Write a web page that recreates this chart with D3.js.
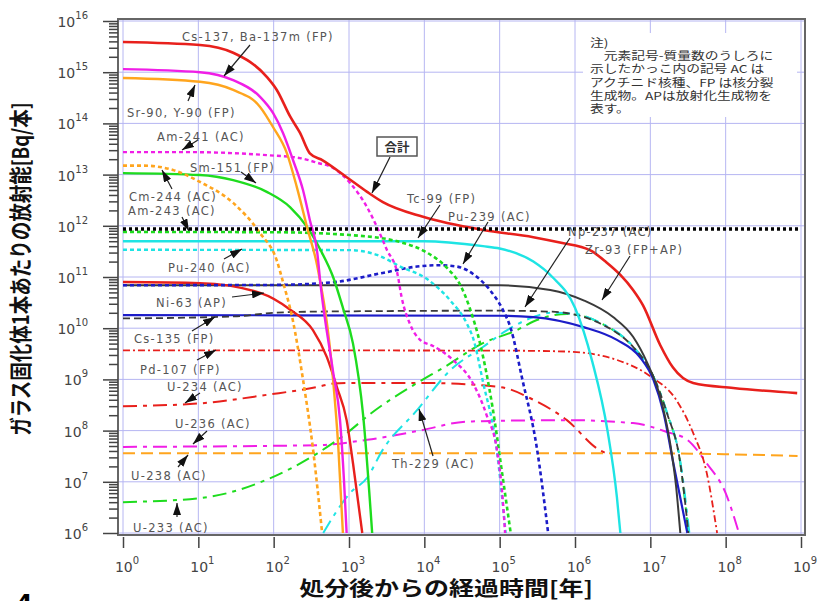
<!DOCTYPE html>
<html>
<head>
<meta charset="utf-8">
<script src="https://cdn.jsdelivr.net/npm/d3@7"></script>
<style>
  body { margin: 0; background: #fff; }
  svg { display: block; }
</style>
</head>
<body>
<svg id="chart" width="819" height="601"></svg>
<script>
// Activity per vitrified-waste canister, [years after disposal, Bq]
const total   = [[1,3.9e15],[10.5,3.4e15],[29,2.4e15],[81,8.1e14],[110,4.5e14],[166,1.35e14],[224,6.5e13],[302,2.6e13],[447,1.9e13],[933,8.9e12],[1740,4.6e12],[2820,2.9e12],[9600,1.5e12],[6e4,8.3e11],[2.8e5,6e11],[6.3e5,4.7e11],[1.6e6,3.3e11],[2.6e6,1.95e11],[4e6,1.1e11],[5.9e6,5.6e10],[8e6,2.8e10],[1.35e7,4.7e9],[2e7,1.7e9],[3.7e7,8.5e8],[1.26e8,6.8e8],[8.9e8,5.4e8]];
const sr90    = [[1,1.15e15],[10.5,1e15],[29,7e14],[66,3.3e14],[98,1.6e14],[133,6.5e13],[180,1.95e13],[245,5e12],[302,1.3e12],[380,2.9e11],[417,7.6e10],[615,1.4e9],[760,1.6e8],[860,1e7],[930,1e6]];
const y90     = [[1,7.7e14],[10.5,6.5e14],[29,4.5e14],[66,2.1e14],[98,8.5e13],[150,2.6e13],[203,5.7e12],[277,9.5e11],[380,1.6e11],[615,9.8e8],[720,5e7],[830,1e6]];
const am241   = [[1,2.75e13],[7,2.75e13],[81,2.4e13],[224,2.1e13],[380,1.7e13],[615,1.35e13],[1030,6.9e12],[1740,2.3e12],[2350,9.5e11],[3180,3.4e11],[4370,1.2e11],[5000,4e10],[6460,1.2e10],[8710,6e9],[1.3e4,4.5e9],[2.4e4,2.4e9],[4.4e4,8.5e8],[6.8e4,1.9e8],[9.2e4,4.2e7],[1.1e5,4.4e6],[1.18e5,1e6]];
const cm244   = [[1,1.5e13],[1.85,1.5e13],[4.6,1.23e13],[10.5,7.2e12],[29,2.8e12],[66,7.2e11],[110,2.1e11],[133,8e10],[180,1.4e10],[245,1e9],[330,4.8e7],[440,1e6]];
const sm151   = [[1,1.07e13],[10.5,9.8e12],[29,7.8e12],[81,4.6e12],[166,2.3e12],[277,9.5e11],[417,3.4e11],[615,1e11],[830,2.5e10],[1130,5e9],[1540,2e8],[2030,1e6]];
const am243   = [[1,7.6e11],[100,7.5e11],[1030,6.6e11],[4800,4.8e11],[1e4,3.2e11],[2e4,1.5e11],[3e4,7e10],[4e4,2.5e10],[5.5e4,5e9],[8e4,3e8],[1.1e5,1.2e7],[1.4e5,1e6]];
const pu240   = [[1,3.4e11],[1000,3.35e11],[2350,2.7e11],[4800,1.6e11],[1.1e4,9e10],[2.2e4,3.5e10],[3.7e4,1.2e10],[4.5e4,6e9],[6e4,9e8],[9e4,5e7],[1.2e5,1e6]];
const tc99    = [[1,5e11],[1e4,5e11],[6e4,4e11],[1e5,3.6e11],[2.8e5,2e11],[5e5,1e11],[1e6,2.5e10],[1.7e6,2.2e9],[2.7e6,1e8],[3.6e6,5e6],[4e6,1e6]];
const pu239   = [[1,6.9e10],[100,7e10],[615,7.9e10],[2800,1.2e11],[8000,1.6e11],[1.6e4,1.7e11],[2.7e4,1.6e11],[5e4,1e11],[7.4e4,5.6e10],[1.1e5,2.3e10],[1.4e5,1e10],[2e5,1e9],[3.1e5,4.8e7],[4.4e5,1e6]];
const zr93    = [[1,6.9e10],[1e5,6.9e10],[4.7e5,5.6e10],[1.3e6,3.5e10],[3.2e6,1.65e10],[5.9e6,6.8e9],[9.1e6,2.1e9],[1.35e7,4.6e8],[1.8e7,6.6e7],[2.2e7,8e6],[2.5e7,1e6]];
const ni63    = [[1,8e10],[10.5,7.6e10],[66,4.9e10],[166,2.3e10],[332,9.2e9],[510,2.7e9],[690,7.1e8],[930,1.6e8],[1130,2.3e7],[1500,1e6]];
const np237   = [[1,1.55e10],[30,1.7e10],[100,2e10],[300,2.1e10],[1e5,2.2e10],[5e5,2.1e10],[2.1e6,1.26e10],[5.9e6,4.3e9],[1e7,1.5e9],[1.66e7,2.2e8],[2.5e7,2.3e7],[3.2e7,1e6]];
const cs135   = [[1,1.8e10],[1e5,1.75e10],[2.8e5,1.65e10],[1.3e6,1.05e10],[3.6e6,5.9e9],[7.3e6,2.7e9],[1.1e7,9.8e8],[1.5e7,2.2e8],[2e7,2.5e7],[3.1e7,1e6]];
const pd107   = [[1,3.7e9],[1e5,3.65e9],[7.8e5,3.5e9],[3.6e6,2.4e9],[1e7,1.15e9],[2.2e7,4e8],[3.7e7,9e7],[5.6e7,1.5e7],[7.7e7,1e6]];
const u234    = [[1,3e8],[10.5,3.4e8],[81,5e8],[380,7.1e8],[615,8.3e8],[1000,8.5e8],[1e4,8.5e8],[1e5,7.1e8],[2.8e5,4e8],[7.8e5,1.6e8],[2.1e6,4.2e7],[2.6e6,3.6e7]];
const u236    = [[1,4.8e7],[380,5.2e7],[1740,6.6e7],[8700,1e8],[3.7e4,1.5e8],[7.8e5,1.6e8],[5.9e6,1.4e8],[1.66e7,9.4e7],[3.1e7,6.6e7],[5.6e7,2.3e7],[1e8,6e6],[1.5e8,1e6]];
const u238    = [[1,3.6e7],[1e7,3.6e7],[1e8,3.45e7],[9e8,3.2e7]];
const u233    = [[1,4e6],[10.5,4.8e6],[81,1.1e7],[380,3.6e7],[1030,1e8],[1740,1.9e8],[8000,8.5e8],[1.8e4,1.7e9],[6e4,5.1e9],[1.7e5,9.2e9],[2.8e5,1.35e10],[7.8e5,1.9e10],[2.1e6,1.3e10],[5.9e6,4.3e9],[1e7,1.5e9],[1.66e7,2.2e8],[2.5e7,2.3e7],[3.2e7,1e6]];
const th229   = [[455,1e6],[1030,6e6],[1740,1.2e7],[2800,4.2e7],[8000,2.5e8],[2.2e4,1.5e9],[6e4,4.3e9],[1.26e5,9.2e9],[2.8e5,1.65e10],[4.7e5,2e10],[1e6,1.9e10],[2.1e6,1.3e10],[5.9e6,4.4e9],[1e7,1.5e9],[1.66e7,2.3e8],[2.5e7,2.5e7],[3.3e7,1e6]];
const refLevel = [[1,8.7e11],[1e9,8.7e11]];

// Axis decades
const xExponents = [0,1,2,3,4,5,6,7,8,9];
const yExponents = [6,7,8,9,10,11,12,13,14,15,16];

const xTitle = "処分後からの経過時間[年]";
const yTitle = "ガラス固化体1本あたりの放射能[Bq/本]";
const noteLines = ["注)", "　元素記号-質量数のうしろに", "示したかっこ内の記号 AC は", "アクチニド核種、FP は核分裂", "生成物。APは放射化生成物を", "表す。"];

// Colours
const RED = "#e8201c", MAG = "#f01ee6", ORA = "#ffa51e", GRN = "#1edc1e",
      CYA = "#1ee4e4", BLU = "#1c1cc8", DRK = "#3a3a3a";

// Draw order: bottom first
const series = [
  { data: u238,  color: ORA, w: 2,   dash: "12,6" },
  { data: u234,  color: RED, w: 2,   dash: "14,6,4,6" },
  { data: u236,  color: MAG, w: 2,   dash: "14,6,4,6" },
  { data: u233,  color: GRN, w: 2,   dash: "14,6,4,6" },
  { data: th229, color: CYA, w: 2,   dash: "14,6,4,6" },
  { data: pd107, color: RED, w: 1.8, dash: "7,3,2,3" },
  { data: cs135, color: BLU, w: 2.2, dash: null },
  { data: np237, color: DRK, w: 1.8, dash: "7,4" },
  { data: zr93,  color: DRK, w: 2,   dash: null },
  { data: ni63,  color: RED, w: 2.4, dash: null },
  { data: pu239, color: BLU, w: 2.6, dash: "4,3" },
  { data: pu240, color: CYA, w: 2.4, dash: "4,3" },
  { data: tc99,  color: CYA, w: 2.4, dash: null },
  { data: am243, color: GRN, w: 2.6, dash: "4,3" },
  { data: sm151, color: GRN, w: 2.4, dash: null },
  { data: cm244, color: ORA, w: 2.6, dash: "4,3" },
  { data: am241, color: MAG, w: 2.4, dash: "4,3" },
  { data: y90,   color: ORA, w: 2.4, dash: null },
  { data: sr90,  color: MAG, w: 2.4, dash: null },
  { data: total, color: RED, w: 2.6, dash: null },
  { data: refLevel, color: "#000", w: 3.5, dash: "3,3" }
];

// Nuclide labels with their pointer arrows (tail -> tip)
const labels = [
  { text: "Cs-137, Ba-137m (FP)", x: 182, y: 41,  a: [250,45, 224,76] },
  { text: "Sr-90, Y-90 (FP)",     x: 127, y: 117, a: [188,101, 195,85] },
  { text: "Am-241 (AC)",          x: 157, y: 141, a: [198,140, 182,150] },
  { text: "Sm-151 (FP)",          x: 190, y: 172, a: [241,172, 256,183] },
  { text: "Cm-244 (AC)",          x: 129, y: 201, a: [172,189, 162,170] },
  { text: "Am-243 (AC)",          x: 128, y: 215, a: [182,217, 189,231] },
  { text: "Pu-240 (AC)",          x: 168, y: 272, a: [224,259, 242,249] },
  { text: "Ni-63 (AP)",           x: 156, y: 307, a: [232,297, 264,293] },
  { text: "Cs-135 (FP)",          x: 134, y: 343, a: [192,331, 215,317] },
  { text: "Pd-107 (FP)",          x: 140, y: 374, a: [197,360, 216,350] },
  { text: "U-234 (AC)",           x: 167, y: 391, a: [200,393, 185,403] },
  { text: "U-236 (AC)",           x: 175, y: 428, a: [207,431, 193,444] },
  { text: "U-238 (AC)",           x: 131, y: 480, a: [178,467, 188,455] },
  { text: "U-233 (AC)",           x: 133, y: 532, a: [177,517, 177,503] },
  { text: "Th-229 (AC)",          x: 392, y: 468, a: [433,456, 419,409] },
  { text: "Tc-99 (FP)",           x: 407, y: 203, a: [440,205, 418,238] },
  { text: "Pu-239 (AC)",          x: 448, y: 221, a: [488,222, 463,264] },
  { text: "Np-237 (AC)",          x: 568, y: 236, a: [570,238, 525,307] },
  { text: "Zr-93 (FP+AP)",        x: 585, y: 254, a: [630,256, 602,300] }
];

const svg = d3.select("#chart");
const plot = { l: 118, t: 19, r: 805, b: 535 };

const x = d3.scaleLog().domain([1, 1e9]).range([123, 801]);
const y = d3.scaleLog().domain([1e6, 1e16]).range([533, 21]);

const defs = svg.append("defs");
defs.append("clipPath").attr("id", "plotClip")
  .append("rect").attr("x", plot.l).attr("y", plot.t)
  .attr("width", plot.r - plot.l).attr("height", plot.b - plot.t);
defs.append("marker").attr("id", "arrowHead")
  .attr("viewBox", "0 0 12 8").attr("refX", 12).attr("refY", 4)
  .attr("markerWidth", 12).attr("markerHeight", 8)
  .attr("markerUnits", "userSpaceOnUse").attr("orient", "auto")
  .append("path").attr("d", "M0,0L12,4L0,8Z").attr("fill", "#111");

// Plot background and grid
svg.append("rect").attr("x", plot.l).attr("y", plot.t)
  .attr("width", plot.r - plot.l).attr("height", plot.b - plot.t).attr("fill", "#fff");

const grid = svg.append("g").attr("stroke", "#b6b6f2").attr("stroke-width", 1);
grid.selectAll("line.gx").data(xExponents).join("line")
  .attr("x1", e => x(10 ** e)).attr("x2", e => x(10 ** e))
  .attr("y1", plot.t).attr("y2", plot.b);
grid.selectAll("line.gy").data(yExponents).join("line")
  .attr("y1", e => y(10 ** e)).attr("y2", e => y(10 ** e))
  .attr("x1", plot.l).attr("x2", plot.r);

// Note panel: one text block, one tspan per line
svg.append("rect").attr("x", 583).attr("y", 33).attr("width", 214).attr("height", 84).attr("fill", "#fff");
svg.append("text").attr("transform", "translate(590,47) scale(1.25,1)")
  .attr("font-family", "'Noto Sans CJK JP', sans-serif")
  .attr("font-size", 11).attr("fill", "#333")
  .selectAll("tspan").data(noteLines).join("tspan")
  .attr("x", 0).attr("dy", (d, i) => i === 0 ? 0 : (i === 1 ? 13 : 13.3))
  .text(d => d);

// Curves
const line = d3.line().x(d => x(d[0])).y(d => y(d[1])).curve(d3.curveMonotoneX);
svg.append("g").attr("clip-path", "url(#plotClip)")
  .selectAll("path").data(series).join("path")
  .attr("d", d => line(d.data))
  .attr("fill", "none")
  .attr("stroke", d => d.color)
  .attr("stroke-width", d => d.w)
  .attr("stroke-dasharray", d => d.dash)
  .attr("stroke-linejoin", "round");

// Frame
svg.append("rect").attr("x", plot.l).attr("y", plot.t)
  .attr("width", plot.r - plot.l).attr("height", plot.b - plot.t)
  .attr("fill", "none").attr("stroke", "#666").attr("stroke-width", 2);

// Y axis: major and minor ticks
const yMinor = [];
yExponents.slice(0, -1).forEach(e => { for (let k = 2; k <= 9; k++) yMinor.push(k * 10 ** e); });
const yAxisMajor = d3.axisLeft(y).tickValues(yExponents.map(e => 10 ** e)).tickSize(15).tickFormat("");
const yAxisMinor = d3.axisLeft(y).tickValues(yMinor).tickSize(9).tickFormat("");
[yAxisMajor, yAxisMinor].forEach(ax => {
  const g = svg.append("g").attr("transform", `translate(${plot.l},0)`).call(ax);
  g.select(".domain").remove();
  g.selectAll("line").attr("stroke", "#444").attr("stroke-width", 1.5);
});
const xAxis = d3.axisBottom(x).tickValues(xExponents.map(e => 10 ** e)).tickSize(11).tickFormat("");
const gx = svg.append("g").attr("transform", `translate(0,${plot.b + 2})`).call(xAxis);
gx.select(".domain").remove();
gx.selectAll("line").attr("stroke", "#444").attr("stroke-width", 1.5);

// Tick labels as powers of ten
const yl = svg.append("g").selectAll("text").data(yExponents).join("text")
  .attr("x", 88).attr("y", e => y(10 ** e) + 6)
  .attr("text-anchor", "end").attr("font-family", "'DejaVu Sans', sans-serif").attr("fill", "#444");
yl.append("tspan").attr("font-size", 14).text("10");
yl.append("tspan").attr("font-size", 10).attr("dy", -8).text(e => e);

const xl = svg.append("g").selectAll("text").data(xExponents).join("text")
  .attr("x", e => x(10 ** e) + 4).attr("y", 572)
  .attr("text-anchor", "middle").attr("font-family", "'DejaVu Sans', sans-serif").attr("fill", "#444");
xl.append("tspan").attr("font-size", 14).text("10");
xl.append("tspan").attr("font-size", 10).attr("dy", -8).text(e => e);

// Axis titles
svg.append("text")
  .attr("transform", "translate(446,596) scale(1.25,1)")
  .attr("text-anchor", "middle")
  .attr("font-family", "'Noto Sans CJK JP', sans-serif").attr("font-weight", 700)
  .attr("font-size", 20).attr("fill", "#111").text(xTitle);
svg.append("text")
  .attr("transform", "translate(29,269) scale(1.2,1) rotate(-90)")
  .attr("text-anchor", "middle")
  .attr("font-family", "'Noto Sans CJK JP', sans-serif").attr("font-weight", 700)
  .attr("font-size", 18.5).attr("fill", "#111").text(yTitle);

// Nuclide labels and arrows
const lg = svg.append("g");
lg.selectAll("line").data(labels).join("line")
  .attr("x1", d => d.a[0]).attr("y1", d => d.a[1])
  .attr("x2", d => d.a[2]).attr("y2", d => d.a[3])
  .attr("stroke", "#222").attr("stroke-width", 1.2)
  .attr("marker-end", "url(#arrowHead)");
lg.selectAll("text").data(labels).join("text")
  .attr("x", d => d.x).attr("y", d => d.y)
  .attr("font-family", "'DejaVu Sans', sans-serif").attr("font-size", 11.5)
  .attr("letter-spacing", 1.3).attr("fill", "#555")
  .text(d => d.text);

// Boxed label for the total curve
svg.append("rect").attr("x", 377).attr("y", 137).attr("width", 40).attr("height", 19)
  .attr("fill", "#fff").attr("stroke", "#555").attr("stroke-width", 1.5);
svg.append("text").attr("x", 397).attr("y", 151.5).attr("text-anchor", "middle")
  .attr("font-family", "'Noto Sans CJK JP', sans-serif").attr("font-weight", 700)
  .attr("font-size", 12.5).attr("fill", "#333").text("合計");
svg.append("line").attr("x1", 390).attr("y1", 157).attr("x2", 372).attr("y2", 193)
  .attr("stroke", "#222").attr("stroke-width", 1.2).attr("marker-end", "url(#arrowHead)");

// Figure number
svg.append("text").attr("x", 16).attr("y", 612)
  .attr("font-family", "'DejaVu Sans', sans-serif").attr("font-weight", 700)
  .attr("font-size", 24).attr("fill", "#000").text("4");
</script>
</body>
</html>
